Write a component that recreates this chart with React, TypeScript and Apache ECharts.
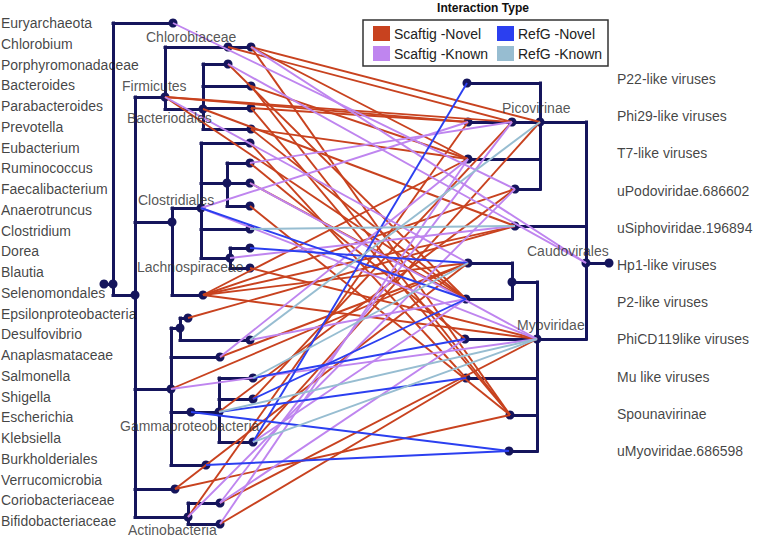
import React, { useEffect, useRef } from "react";
import * as echarts from "echarts";

// ---------- data ----------
const hostLabels = [
  "Euryarchaeota", "Chlorobium", "Porphyromonadaceae", "Bacteroides", "Parabacteroides",
  "Prevotella", "Eubacterium", "Ruminococcus", "Faecalibacterium", "Anaerotruncus",
  "Clostridium", "Dorea", "Blautia", "Selenomondales", "Epsilonproteobacteria",
  "Desulfovibrio", "Anaplasmataceae", "Salmonella", "Shigella", "Escherichia",
  "Klebsiella", "Burkholderiales", "Verrucomicrobia", "Coriobacteriaceae", "Bifidobacteriaceae",
];
const virusLabels = [
  "P22-like viruses", "Phi29-like viruses", "T7-like viruses", "uPodoviridae.686602",
  "uSiphoviridae.196894", "Hp1-like viruses", "P2-like viruses", "PhiCD119like viruses",
  "Mu like viruses", "Spounavirinae", "uMyoviridae.686598",
];

// host tree: [id, branch depth, row, parent]
const hostTree: [string, number, number, string | null][] = [
  ["P", 104, 284, null], ["top", 113, 284, "P"], ["Eury", 173, 23, "top"], ["Bac", 135, 295, "top"],
  ["Firm", 165, 97, "Bac"], ["Chl", 228, 47, "Firm"], ["Chl2", 251, 47, "Chl"],
  ["Bcd", 203, 109, "Firm"], ["Por", 228, 64, "Bcd"], ["Bctd", 251, 86, "Bcd"],
  ["Para", 251, 108, "Bcd"], ["Prev", 251, 129, "Bcd"],
  ["Cgrp", 172, 222, "Bac"], ["Clos", 201, 208, "Cgrp"], ["c1", 250, 143, "Clos"],
  ["cA", 227, 183, "Clos"], ["c2", 250, 163, "cA"], ["c3", 250, 183, "cA"], ["c4", 250, 206, "cA"],
  ["c5", 250, 229, "Clos"], ["cB", 230, 258, "Clos"], ["c6", 250, 248, "cB"], ["c7", 250, 268, "cB"],
  ["Lach", 203, 295, "Cgrp"],
  ["Gam", 171, 389, "Bac"], ["g1", 180, 328, "Gam"], ["Eps", 188, 318, "g1"], ["g2", 250, 340, "g1"],
  ["g3", 220, 357, "Gam"], ["gA", 191, 412, "Gam"], ["gB", 219, 412, "gA"], ["g4", 253, 378, "gB"],
  ["g5", 253, 399, "gB"], ["g6", 253, 442, "gB"], ["g7", 206, 465, "Gam"],
  ["v1", 175, 489, "Bac"], ["Act", 188, 517, "Bac"], ["a1", 220, 503, "Act"], ["a2", 220, 524, "Act"],
];

// virus tree: [id, branch depth, row, parent]
const virusTree: [string, number, number, string | null][] = [
  ["root", 609, 263, null], ["Cau", 586, 263, "root"], ["Pic", 540, 122, "Cau"],
  ["p1", 467, 83, "Pic"], ["pd", 512, 122, "Pic"], ["p2", 468, 122, "pd"], ["p3", 468, 159, "Pic"],
  ["p4", 515, 189, "Pic"], ["s1", 515, 226, "Cau"], ["Myo", 537, 339, "Cau"],
  ["mA", 512, 282, "Myo"], ["m1", 468, 263, "mA"], ["m2", 466, 299, "mA"], ["m3", 465, 339, "Myo"],
  ["m4", 466, 378, "Myo"], ["m5", 510, 415, "Myo"], ["m6", 509, 451, "Myo"],
];

const cladeLabels: [string, number, number][] = [
  ["Chlorobiaceae", 146, 37], ["Firmicutes", 122, 86], ["Bacteriodales", 127, 118],
  ["Clostridiales", 138, 200], ["Lachnospiraceae", 137, 267], ["Gammaproteobacteria", 120, 426],
  ["Actinobacteria", 128, 530], ["Picovirinae", 502, 108], ["Caudovirales", 527, 251],
  ["Myoviridae", 517, 325],
];

const scaftigNovel: [string, string][] = [
  ["Chl", "pd"], ["Chl2", "Pic"], ["Para", "p2"], ["Firm", "pd"], ["Prev", "p3"], ["Bctd", "p3"],
  ["Firm", "p2"], ["Chl2", "m5"], ["Bctd", "m5"], ["Para", "m5"], ["Por", "m2"], ["Bcd", "s1"],
  ["Prev", "m2"], ["c1", "m4"], ["c2", "m3"], ["c3", "m2"], ["c4", "m5"], ["c7", "Myo"],
  ["Lach", "p4"], ["Lach", "m1"], ["Lach", "s1"], ["Lach", "Myo"], ["Lach", "p3"], ["Eps", "s1"],
  ["Gam", "m1"], ["g3", "m1"], ["g6", "Pic"], ["g5", "pd"], ["gB", "p4"], ["v1", "m1"],
  ["v1", "m5"], ["Act", "p2"], ["a1", "Myo"], ["a2", "m4"], ["Chl2", "p3"], ["Firm", "m2"],
];
const scaftigKnown: [string, string][] = [
  ["Eury", "p4"], ["Firm", "m1"], ["Chl2", "Cau"], ["Por", "Cau"], ["c2", "pd"], ["a1", "pd"],
  ["Act", "p4"], ["a2", "p3"], ["Clos", "p2"], ["Clos", "Myo"], ["Gam", "Myo"], ["g3", "p3"],
  ["cB", "s1"], ["c3", "Myo"], ["g2", "m2"], ["g6", "m2"], ["a1", "m3"],
];
const refgNovel: [string, string][] = [
  ["g6", "p1"], ["Clos", "m2"], ["c6", "m1"], ["g7", "m6"], ["gA", "m6"], ["g5", "m2"],
  ["g4", "m3"], ["gB", "m4"],
];
const refgKnown: [string, string][] = [
  ["g2", "Pic"], ["c5", "s1"], ["gB", "Myo"], ["g4", "m1"], ["g6", "Myo"],
];

const typeNames = ["Scaftig -Novel", "Scaftig -Known", "RefG -Novel", "RefG -Known"];
const typeColors = ["#c8421f", "#bf85ef", "#2b3ff0", "#97bdd1"];
const typeLinks = [scaftigNovel, scaftigKnown, refgNovel, refgKnown];

// ---------- helpers ----------
const NAVY = "#15155c";
const FONT = "'Liberation Sans', Arial, Helvetica, sans-serif";

function treeEdges(tree: [string, number, number, string | null][]) {
  const map: Record<string, [number, number]> = {};
  tree.forEach(([id, x, y]) => (map[id] = [x, y]));
  const edges: number[][][] = [];
  const kids: Record<string, number[]> = {};
  tree.forEach(([id, x, y, p]) => {
    if (!p) return;
    const [px] = map[p];
    edges.push([[px, y], [x, y]]);
    (kids[p] = kids[p] || []).push(y);
  });
  Object.keys(kids).forEach((p) => {
    const [px, py] = map[p];
    const ys = kids[p].concat([py]);
    edges.push([[px, Math.min(...ys)], [px, Math.max(...ys)]]);
  });
  return { edges, map };
}

export default function App() {
  const ref = useRef<HTMLDivElement>(null);
  useEffect(() => {
    if (!ref.current) return;
    const chart = echarts.init(ref.current, undefined, { renderer: "svg" });
    const h = treeEdges(hostTree);
    const v = treeEdges(virusTree);
    const pos = { ...h.map, ...v.map };

    const series: any[] = [
      {
        type: "lines", coordinateSystem: "cartesian2d", silent: true, z: 1,
        data: [...h.edges, ...v.edges].map((c) => ({ coords: c })),
        lineStyle: { color: NAVY, width: 3, opacity: 1, cap: "square" },
      },
      {
        type: "scatter", silent: true, z: 2, symbolSize: 9,
        itemStyle: { color: NAVY, opacity: 1 },
        data: [...hostTree, ...virusTree].map((n) => [n[1], n[2]]),
      },
    ];
    typeLinks.forEach((links, k) => {
      series.push({
        type: "lines", name: typeNames[k], coordinateSystem: "cartesian2d", silent: true, z: 3,
        data: links.map(([a, b]) => ({ coords: [pos[a], pos[b]] })),
        lineStyle: { color: typeColors[k], width: 1.9, opacity: 1 },
        itemStyle: { color: typeColors[k] },
      });
    });
    const textSeries = (data: any[], color: string, z: number) => ({
      type: "scatter", silent: true, z, symbolSize: 0,
      data,
      label: {
        show: true, position: "right", distance: 0, formatter: "{b}",
        color, fontSize: 14, fontFamily: FONT,
      },
    });
    series.push(textSeries(hostLabels.map((n, i) => ({ name: n, value: [1, 23 + i * 20.75] })), "#111", 5));
    series.push(textSeries(virusLabels.map((n, i) => ({ name: n, value: [617, 79 + i * 37.2] })), "#111", 5));
    series.push(textSeries(cladeLabels.map(([n, x, y]) => ({ name: n, value: [x, y] })), "#2a2a2a", 5));

    const legendPos = [[373, 26], [373, 46], [497, 26], [497, 46]];
    chart.setOption({
      animation: false,
      backgroundColor: "#fff",
      grid: { left: 0, right: 0, top: 0, bottom: 0 },
      xAxis: { type: "value", min: 0, max: 757, show: false },
      yAxis: { type: "value", min: 0, max: 539, inverse: true, show: false },
      legend: typeNames.map((n, k) => ({
        data: [{ name: n, icon: "rect", itemStyle: { color: typeColors[k] } }],
        left: legendPos[k][0], top: legendPos[k][1], padding: 0, itemGap: 0,
        itemWidth: 15, itemHeight: 13, selectedMode: false, z: 7,
        textStyle: { fontSize: 14, color: "#222", fontFamily: FONT },
      })),
      graphic: [
        {
          type: "rect", z: 6, shape: { x: 363, y: 20, width: 245, height: 46 },
          style: { fill: "#fff", stroke: "#333", lineWidth: 1.5 },
        },
        {
          type: "text", z: 6, x: 483, y: 8,
          style: {
            text: "Interaction Type", font: `bold 12px ${FONT}`, fill: "#111",
            align: "center", verticalAlign: "middle", textAlign: "center", textVerticalAlign: "middle",
          },
        },
      ],
      series,
    });
    return () => chart.dispose();
  }, []);
  return (
    <div
      ref={ref}
      style={{ position: "fixed", left: 0, top: 0, width: 757, height: 539, background: "#fff" }}
    />
  );
}
